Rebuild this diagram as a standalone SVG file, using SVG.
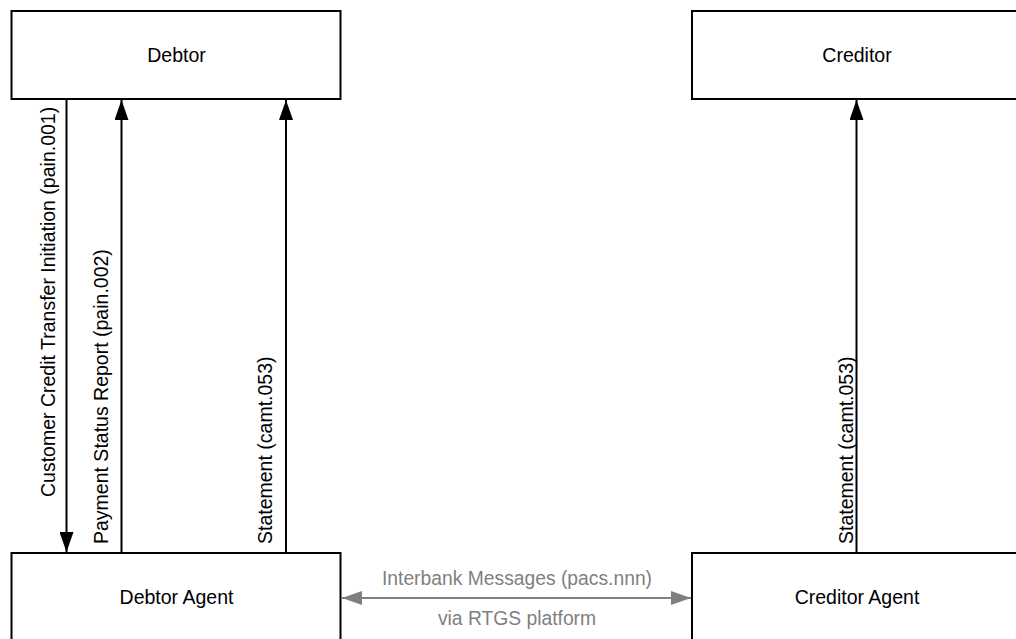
<svg xmlns="http://www.w3.org/2000/svg" width="1016" height="639" viewBox="0 0 1016 639">
<style>
.box{fill:#fff;stroke:#000;stroke-width:2}
.lbl{font-family:"Liberation Sans",Arial,sans-serif;font-size:19.5px;fill:#000}
.c{text-anchor:middle}
.ln{stroke:#000;stroke-width:2;fill:none}
.gl{stroke:#7f7f7f;stroke-width:2;fill:none}
.gt{font-family:"Liberation Sans",Arial,sans-serif;font-size:19.3px;fill:#7f7f7f;text-anchor:middle}
</style>
<defs>
<marker id="ah" markerUnits="userSpaceOnUse" markerWidth="20" markerHeight="14" refX="20" refY="7" orient="auto">
<path d="M0,0 L20,7 L0,14 Z" fill="#000"/>
</marker>
<marker id="gh" markerUnits="userSpaceOnUse" markerWidth="20" markerHeight="14" refX="20" refY="7" orient="auto-start-reverse">
<path d="M0,0 L20,7 L0,14 Z" fill="#7f7f7f"/>
</marker>
</defs>
<rect width="1016" height="639" fill="#fff"/>
<g id="debtor">
<rect class="box" x="11.5" y="11" width="329" height="88"/>
<text class="lbl c" x="176.5" y="62">Debtor</text>
</g>
<g id="creditor">
<rect class="box" x="692" y="11" width="329" height="88"/>
<text class="lbl c" x="857" y="62">Creditor</text>
</g>
<g id="debtor-agent">
<rect class="box" x="11.5" y="553" width="329" height="100"/>
<text class="lbl c" x="176.5" y="604">Debtor Agent</text>
</g>
<g id="creditor-agent">
<rect class="box" x="692" y="553" width="329" height="100"/>
<text class="lbl c" x="857" y="604">Creditor Agent</text>
</g>
<g id="connectors">
<line class="ln" x1="66.5" y1="99" x2="66.5" y2="552" marker-end="url(#ah)"/>
<text class="lbl" transform="translate(55,497) rotate(-90)">Customer Credit Transfer Initiation (pain.001)</text>
<line class="ln" x1="121.5" y1="553" x2="121.5" y2="100" marker-end="url(#ah)"/>
<text class="lbl" transform="translate(108,544) rotate(-90)">Payment Status Report (pain.002)</text>
<line class="ln" x1="286" y1="553" x2="286" y2="100" marker-end="url(#ah)"/>
<text class="lbl" transform="translate(272,544) rotate(-90)">Statement (camt.053)</text>
<line class="ln" x1="856.5" y1="553" x2="856.5" y2="100" marker-end="url(#ah)"/>
<text class="lbl" transform="translate(853,544) rotate(-90)">Statement (camt.053)</text>
<line class="gl" x1="342" y1="598" x2="691" y2="598" marker-start="url(#gh)" marker-end="url(#gh)"/>
<text class="gt" x="517" y="585">Interbank Messages (pacs.nnn)</text>
<text class="gt" x="517" y="625">via RTGS platform</text>
</g>
</svg>
